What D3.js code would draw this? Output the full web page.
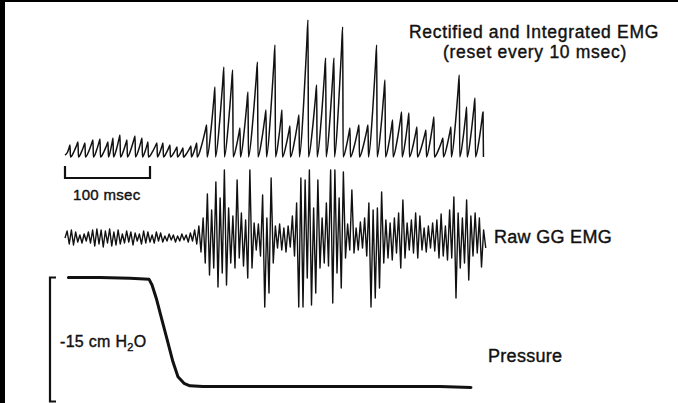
<!DOCTYPE html>
<html>
<head>
<meta charset="utf-8">
<script src="https://cdn.jsdelivr.net/npm/d3@7"></script>
<style>
  body { margin: 0; background: #fff; }
  svg { display: block; font-family: "Liberation Sans", Arial, Helvetica, sans-serif; }
</style>
</head>
<body>
<div id="grafica"></div>
<script>
// Rectified and integrated EMG: time of each peak before reset (msec) and peak height (arb. units)
var integTime = [5.9, 15.3, 23.5, 32.9, 41.2, 50.6, 56.5, 64.7, 72.9, 82.4,
  90.6, 97.6, 108.2, 115.3, 123.5, 131.8, 138.8, 148.2, 155, 166.7,
  176.5, 187, 197.3, 205.9, 215.3, 226.5, 236.5, 247.1, 255.3, 264.7,
  275.3, 285.9, 296.1, 306.7, 316.5, 326.7, 335.3, 345.9, 356.5, 366.7,
  376.5, 385.5, 396.1, 404.7, 414.1, 424.7, 434.1, 444.7, 454.1, 463.9,
  472.6, 482.4, 491.8];
var integPeak = [12, 15, 14, 17, 18, 15, 19, 22, 17, 21,
  19, 15, 14, 14, 12, 10, 9, 11, 14, 32,
  70, 90, 87, 29, 65, 95, 47, 112, 47, 31,
  42, 137, 72, 99, 99, 130, 29, 32, 32, 112,
  77, 37, 45, 44, 30, 27, 40, 19, 30, 82,
  50, 59, 45];

// Raw GG EMG, one sample every 2.5 msec (arb. units)
var rawStep = 2.5;
var rawEmg = [0, 7, -6, 8, -7, 6, -4, 3, -5, 4,
  -3, 6, -5, 8, -8, 9, -6, 8, -9, 7,
  -5, 9, -8, 6, -7, 8, -6, 4, -5, 7,
  -4, 6, -7, 5, -3, 4, -6, 7, -5, 6,
  -4, 3, -5, 6, -3, 5, -4, 2, -3, 4,
  -2, 3, -4, 2, -3, 4, -2, 3, -4, 5,
  -3, 8, -6, 12, -14, 20, -25, 44, -37, 28,
  -30, 56, -49, 40, -35, 68, -47, 30, -25, 22,
  -30, 58, -20, 25, -28, 18, -40, 68, -30, 15,
  -12, 14, -18, 43, -69, 20, -55, 60, -25, 12,
  -10, 14, -12, 10, -14, 12, -9, 22, -18, 35,
  -69, 60, -69, 58, -40, 68, -67, 30, -55, 58,
  -30, 20, -25, 35, -28, 68, -65, 68, -35, 40,
  -50, 66, -20, 14, -12, 48, -15, 10, -12, 16,
  -10, 20, -18, 35, -69, 28, -60, 30, -50, 46,
  -25, 18, -20, 15, -22, 20, -15, 25, -30, 38,
  -20, 15, -12, 18, -15, 25, -20, 22, -12, 10,
  -14, 12, -10, 15, -13, 18, -20, 24, -18, 12,
  -22, 28, -20, 41, -60, 25, -30, 20, -25, 38,
  -42, 22, -18, 25, -15, 20, -29, 8, -10];

// Pressure (cm H2O)
var pressTime = [4, 41, 76.5, 98.8, 102.4, 107.9, 113.5, 119.4, 127, 132.9,
  140, 147, 162.4, 217.6, 276.5, 335.3, 394, 441, 477.6];
var pressVal = [0, 0, -0.1, -0.2, -0.9, -2.7, -4.9, -7.2, -10.2, -12.0,
  -12.8, -13.1, -13.2, -13.2, -13.2, -13.2, -13.2, -13.2, -13.3];

var width = 678, height = 403;
var ink = "#111";

var svg = d3.select("#grafica")
  .append("svg")
    .attr("width", width)
    .attr("height", height);

svg.append("rect").attr("width", width).attr("height", height).attr("fill", "#fff");
// dark scan edges
svg.append("rect").attr("x", 0).attr("y", 0).attr("width", 5).attr("height", height).attr("fill", "#000");
svg.append("rect").attr("x", 0).attr("y", 0).attr("width", width).attr("height", 2).attr("fill", "#000");

// shared time scale (msec)
var x = d3.scaleLinear().domain([0, 500]).range([65, 490]);
var yInt = d3.scaleLinear().domain([0, 140]).range([157, 17]);
var yRaw = d3.scaleLinear().domain([-70, 70]).range([308, 168]);
var yP = d3.scaleLinear().domain([0, -15]).range([277.5, 401.5]);

// integrator: ramps up, then resets to zero
var integPts = [[0, 2]];
integTime.forEach(function(t, i) {
  var t0 = i == 0 ? 0 : integTime[i - 1] + 0.5;
  integPts.push([t0 + 0.5 * (t - t0), 0.4 * integPeak[i]]);
  integPts.push([t0 + 0.85 * (t - t0), 0.82 * integPeak[i]]);
  integPts.push([t, integPeak[i]]);
  integPts.push([t + 0.5, 0]);
});

svg.append("path")
  .datum(integPts)
  .attr("fill", "none")
  .attr("stroke", ink)
  .attr("stroke-width", 1.5)
  .attr("stroke-linejoin", "round")
  .attr("d", d3.line()
    .curve(d3.curveMonotoneX)
    .x(function(d) { return x(d[0]) })
    .y(function(d) { return yInt(d[1]) }));

// raw EMG
svg.append("path")
  .datum(rawEmg)
  .attr("fill", "none")
  .attr("stroke", ink)
  .attr("stroke-width", 1.4)
  .attr("stroke-linejoin", "round")
  .attr("d", d3.line()
    .x(function(d, i) { return x(i * rawStep) })
    .y(function(d) { return yRaw(d) }));

// pressure
svg.append("path")
  .datum(pressTime.map(function(t, i) { return [t, pressVal[i]] }))
  .attr("fill", "none")
  .attr("stroke", ink)
  .attr("stroke-width", 3)
  .attr("stroke-linejoin", "round")
  .attr("stroke-linecap", "round")
  .attr("d", d3.line()
    .x(function(d) { return x(d[0]) })
    .y(function(d) { return yP(d[1]) }));

// 100 msec bar
svg.append("path")
  .attr("fill", "none")
  .attr("stroke", ink)
  .attr("stroke-width", 2.2)
  .attr("d", "M" + x(0) + ",166V178H" + x(100) + "V166");

function label(tx, ty, size, str, anchor, spacing) {
  return svg.append("text")
    .attr("x", tx).attr("y", ty)
    .attr("text-anchor", anchor || "start")
    .style("font-size", size + "px")
    .style("letter-spacing", (spacing || 0.3) + "px")
    .attr("fill", ink)
    .attr("stroke", ink)
    .attr("stroke-width", 0.4)
    .text(str);
}

label(73, 200, 15, "100 msec");

// -15 cm H2O bracket
svg.append("path")
  .attr("fill", "none")
  .attr("stroke", ink)
  .attr("stroke-width", 2.2)
  .attr("d", "M56," + yP(0) + "H50V" + yP(-15) + "H56");

var lab = label(60, 347, 16, "");
lab.append("tspan").text("-15 cm H");
lab.append("tspan").attr("dy", 4).style("font-size", "11px").text("2");
lab.append("tspan").attr("dy", -4).text("O");

label(534, 38, 17.5, "Rectified and Integrated EMG", "middle", 0.7);
label(535, 57.5, 17.5, "(reset every 10 msec)", "middle", 0.7);
label(494, 243, 18, "Raw GG EMG");
label(488, 362, 18, "Pressure");
</script>
</body>
</html>
